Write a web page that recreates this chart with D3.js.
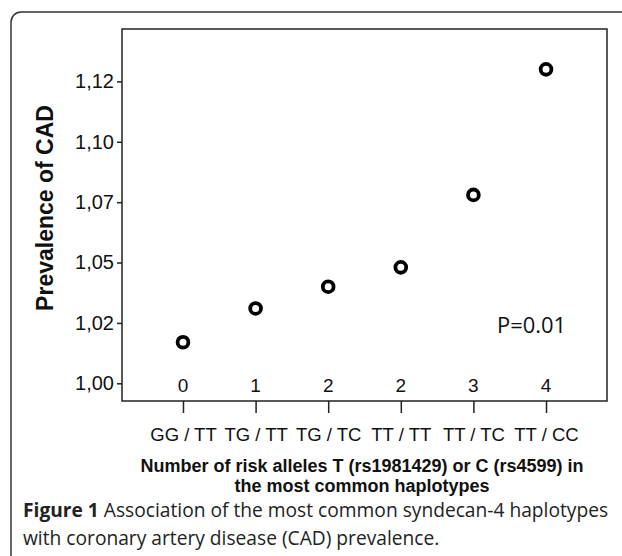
<!DOCTYPE html>
<html>
<head>
<meta charset="utf-8">
<script src="https://cdn.jsdelivr.net/npm/d3@7"></script>
<style>
  html, body { margin: 0; padding: 0; background: #fff; }
  svg { display: block; }
</style>
</head>
<body>
<svg id="chart" width="622" height="556"></svg>
<script>
// ---- data ----
const categories = ["GG / TT", "TG / TT", "TG / TC", "TT / TT", "TT / TC", "TT / CC"];
const riskAlleles = ["0", "1", "2", "2", "3", "4"];
const prevalence = [1.017, 1.031, 1.040, 1.048, 1.078, 1.130];
const yTickValues = [1.000, 1.025, 1.050, 1.075, 1.100, 1.125];
const yTickLabels = ["1,00", "1,02", "1,05", "1,07", "1,10", "1,12"];
const pLabel = "P=0.01";
const yTitle = "Prevalence of CAD";
const xTitleLines = ["Number of risk alleles T (rs1981429) or C (rs4599) in", "the most common haplotypes"];
const captionBold = "Figure 1";
const captionLine1 = " Association of the most common syndecan-4 haplotypes";
const captionLine2 = "with coronary artery disease (CAD) prevalence.";

const svg = d3.select("#chart");
const L = 122, R = 607, T = 29, B = 401;
const sans = "Liberation Sans, Arial, sans-serif";

// outer rounded frame
svg.append("rect")
  .attr("x", 11).attr("y", 12).attr("width", 640).attr("height", 560)
  .attr("rx", 10).attr("ry", 10)
  .attr("fill", "none").attr("stroke", "#333").attr("stroke-width", 1.5);

const x = d3.scalePoint().domain(d3.range(categories.length)).range([L, R]).padding(0.84);
const y = d3.scaleLinear().domain([0.99267, 1.1467]).range([B, T]);

// plot frame
svg.append("rect")
  .attr("x", L).attr("y", T).attr("width", R - L).attr("height", B - T)
  .attr("fill", "none").attr("stroke", "#222").attr("stroke-width", 1.5);

// y axis
const yAxis = d3.axisLeft(y).tickValues(yTickValues)
  .tickFormat((d, i) => yTickLabels[i]).tickSize(5).tickPadding(3);
const gy = svg.append("g").attr("transform", `translate(${L},0)`).call(yAxis);
gy.select(".domain").remove();
gy.selectAll(".tick line").attr("stroke", "#222").attr("stroke-width", 1.5);
gy.selectAll(".tick text").attr("font-family", sans)
  .attr("font-size", 20).attr("fill", "#111");

// x axis (bottom, category names)
const xAxis = d3.axisBottom(x).tickFormat(i => categories[i]).tickSize(12).tickPadding(15);
const gx = svg.append("g").attr("transform", `translate(0,${B})`).call(xAxis);
gx.select(".domain").remove();
gx.selectAll(".tick line").attr("stroke", "#222").attr("stroke-width", 1.5);
gx.selectAll(".tick text").attr("font-family", sans)
  .attr("font-size", 18.5).attr("fill", "#111");

// risk allele counts inside plot
svg.append("g").selectAll("text").data(riskAlleles).join("text")
  .attr("x", (d, i) => x(i)).attr("y", 392)
  .attr("text-anchor", "middle")
  .attr("font-family", sans)
  .attr("font-size", 19).attr("fill", "#111")
  .text(d => d);

// points
svg.append("g").selectAll("circle").data(prevalence).join("circle")
  .attr("cx", (d, i) => x(i)).attr("cy", d => y(d))
  .attr("r", 5.4).attr("fill", "#fff").attr("stroke", "#000").attr("stroke-width", 3.8);

// P label
svg.append("text").attr("x", 497).attr("y", 333)
  .attr("font-family", "Open Sans, Liberation Sans, sans-serif")
  .attr("font-size", 21).attr("fill", "#111").attr("textLength", 69)
  .attr("lengthAdjust", "spacingAndGlyphs").text(pLabel);

// y title
svg.append("text")
  .attr("transform", `translate(53,208) rotate(-90)`)
  .attr("text-anchor", "middle")
  .attr("font-family", sans)
  .attr("font-weight", "bold").attr("font-size", 23).attr("fill", "#111")
  .text(yTitle);

// x title
svg.append("g").selectAll("text").data(xTitleLines).join("text")
  .attr("x", 362).attr("y", (d, i) => 472 + i * 20)
  .attr("text-anchor", "middle")
  .attr("font-family", sans)
  .attr("font-weight", "bold").attr("font-size", 18).attr("fill", "#111")
  .text(d => d);

// caption
const cap = svg.append("text").attr("x", 23).attr("y", 517)
  .attr("font-family", "Open Sans, Liberation Sans, sans-serif")
  .attr("font-size", 19.2).attr("fill", "#222");
cap.append("tspan").attr("font-weight", "bold").text(captionBold);
cap.append("tspan").text(captionLine1);
svg.append("text").attr("x", 23).attr("y", 545)
  .attr("font-family", "Open Sans, Liberation Sans, sans-serif")
  .attr("font-size", 19.2).attr("fill", "#222").text(captionLine2);
</script>
</body>
</html>
